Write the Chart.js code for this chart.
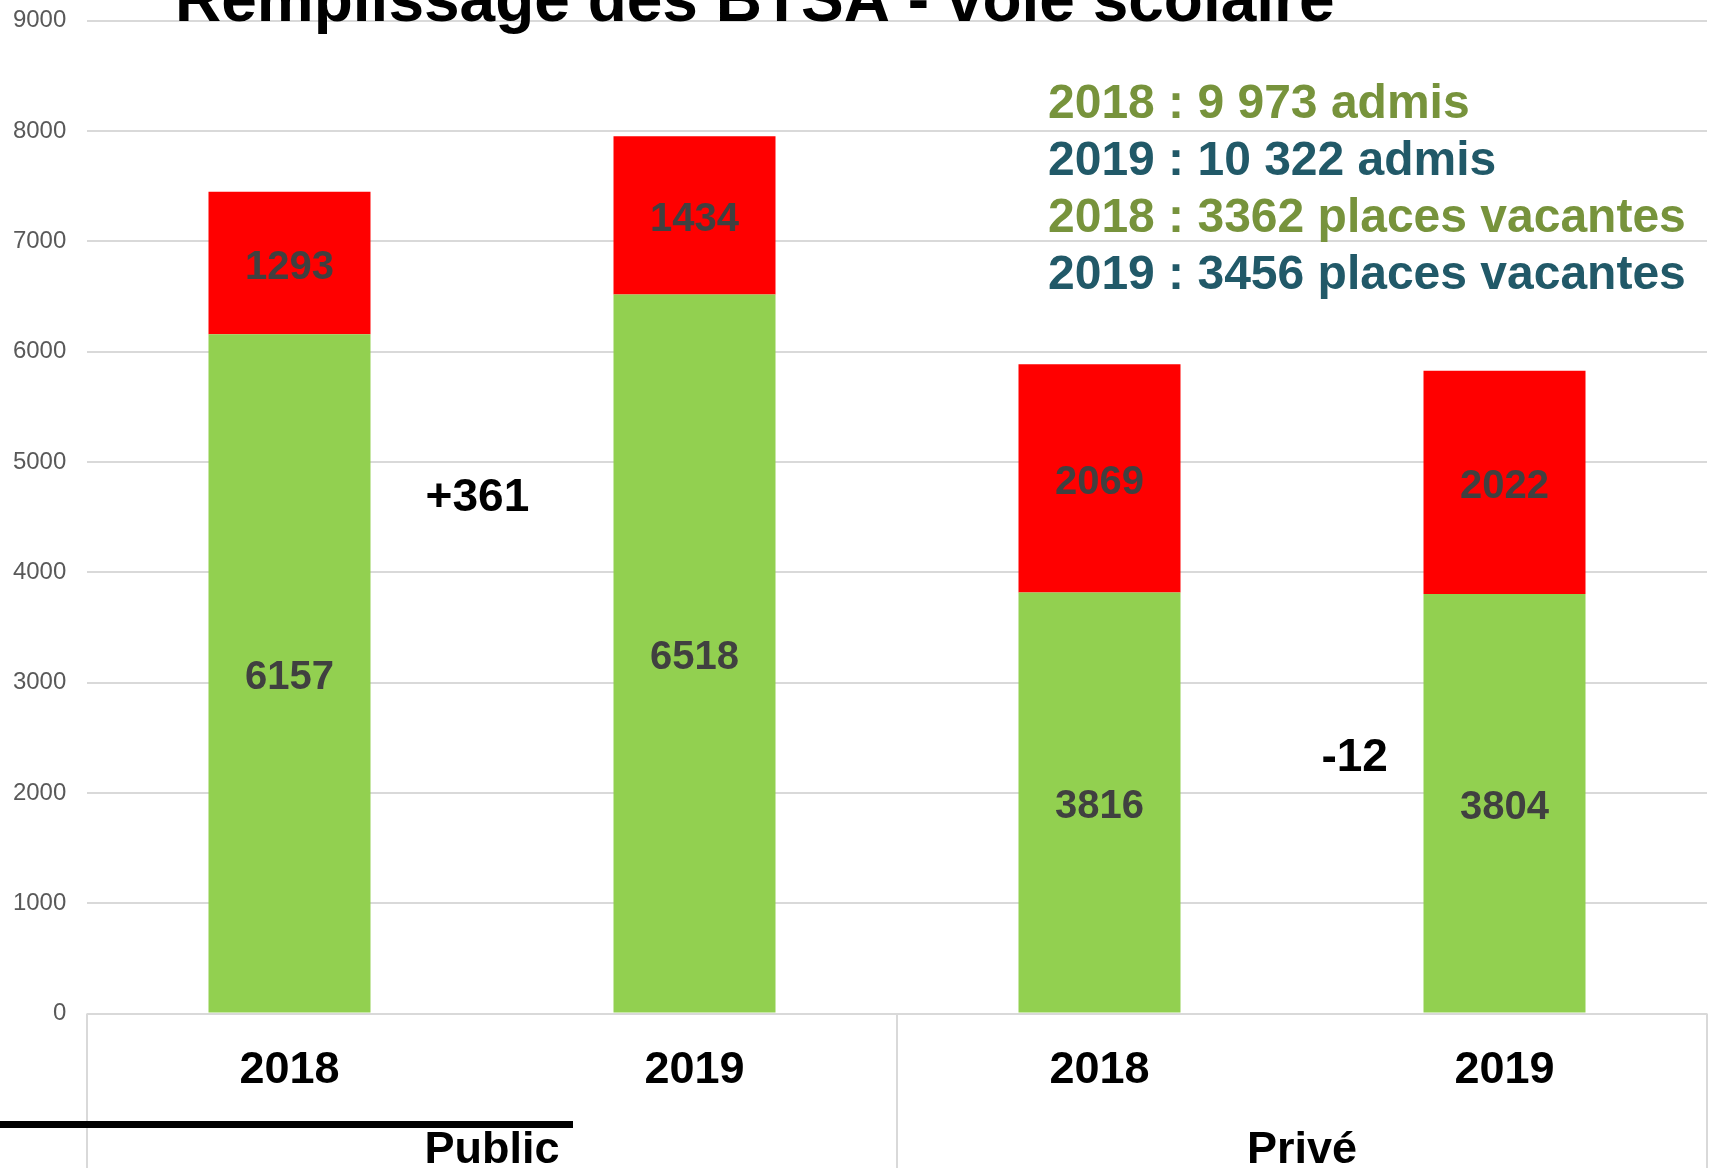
<!DOCTYPE html>
<html>
<head>
<meta charset="utf-8">
<title>Remplissage des BTSA - voie scolaire</title>
<script src="https://cdn.jsdelivr.net/npm/chart.js@4"></script>
<style>
  html, body { margin: 0; padding: 0; background: #fff; }
  canvas { display: block; }
</style>
</head>
<body>
<canvas id="btsaChart" width="1716" height="1168"></canvas>
<script>
// Data
const years = ['2018', '2019', '2018', '2019'];
const groups = ['Public', 'Privé'];
const admis = [6157, 6518, 3816, 3804];       // green part
const vacantes = [1293, 1434, 2069, 2022];    // red part
const yMax = 9000;
const yStep = 1000;

const FONT = '"Liberation Sans", Arial, sans-serif';

// french style number, e.g. 9 973
function frNumber(n) {
    return String(n).replace(/\B(?=(\d{3})+(?!\d))/g, ' ');
}

// totals for the text boxes in the top right corner
const admis2018 = admis[0] + admis[2];
const admis2019 = admis[1] + admis[3];
const vac2018 = vacantes[0] + vacantes[2];
const vac2019 = vacantes[1] + vacantes[3];

const overlay = {
    id: 'overlay',
    afterDatasetsDraw(chart) {
        const ctx = chart.ctx;
        ctx.save();
        // values inside the bars
        ctx.font = 'bold 40px ' + FONT;
        ctx.fillStyle = '#404040';
        ctx.textAlign = 'center';
        ctx.textBaseline = 'middle';
        chart.data.datasets.forEach((ds, i) => {
            chart.getDatasetMeta(i).data.forEach((bar, j) => {
                ctx.fillText(ds.data[j], bar.x, (bar.y + bar.base) / 2 + 4.5);
            });
        });

        // year to year differences
        const xs = chart.scales.x;
        const ys = chart.scales.y;
        ctx.font = 'bold 46px ' + FONT;
        ctx.fillStyle = '#000';
        chart.options.plugins.overlay.diffs.forEach(d => {
            const diff = admis[d.to] - admis[d.from];
            const txt = (diff > 0 ? '+' : '') + diff;
            const x0 = xs.getPixelForValue(d.from);
            const x1 = xs.getPixelForValue(d.to);
            ctx.fillText(txt, x0 + d.t * (x1 - x0), ys.getPixelForValue(d.y) + 3.5);
        });
        ctx.restore();
    },
    afterDraw(chart) {
        const ctx = chart.ctx;
        const area = chart.chartArea;
        const xs = chart.scales.x;
        ctx.save();

        // group borders under the axis
        ctx.strokeStyle = '#d9d9d9';
        ctx.lineWidth = 2;
        const mid = (xs.getPixelForValue(1) + xs.getPixelForValue(2)) / 2;
        [area.left, mid, area.right].forEach(x => {
            ctx.beginPath();
            ctx.moveTo(x, area.bottom);
            ctx.lineTo(x, chart.height);
            ctx.stroke();
        });

        // group labels
        ctx.font = 'bold 45px ' + FONT;
        ctx.fillStyle = '#000';
        ctx.textAlign = 'center';
        ctx.textBaseline = 'alphabetic';
        groups.forEach((g, i) => {
            const cx = (xs.getPixelForValue(i * 2) + xs.getPixelForValue(i * 2 + 1)) / 2;
            ctx.fillText(g, cx, 1163);
        });

        // black rule left over from the slide
        ctx.strokeStyle = '#000';
        ctx.lineWidth = 7;
        ctx.beginPath();
        ctx.moveTo(0, 1124.5);
        ctx.lineTo(573, 1124.5);
        ctx.stroke();

        // title, cut at the top
        ctx.textAlign = 'left';
        ctx.font = 'bold 64px ' + FONT;
        ctx.fillText('Remplissage des BTSA - voie scolaire', 175, 21);

        // text boxes
        const lines = [
            ['2018 : ' + frNumber(admis2018) + ' admis', '#77933c'],
            ['2019 : ' + frNumber(admis2019) + ' admis', '#215968'],
            ['2018 : ' + vac2018 + ' places vacantes', '#77933c'],
            ['2019 : ' + vac2019 + ' places vacantes', '#215968']
        ];
        ctx.font = 'bold 48px ' + FONT;
        lines.forEach((l, i) => {
            ctx.fillStyle = l[1];
            ctx.fillText(l[0], 1048, 118 + i * 57);
        });
        ctx.restore();
    }
};

const ctx = document.getElementById('btsaChart').getContext('2d');
const btsaChart = new Chart(ctx, {
    type: 'bar',
    data: {
        labels: years,
        datasets: [
            {
                label: 'Admis',
                data: admis,
                backgroundColor: '#92d050',
                barPercentage: 0.4,
                categoryPercentage: 1
            },
            {
                label: 'Places vacantes',
                data: vacantes,
                backgroundColor: '#ff0000',
                barPercentage: 0.4,
                categoryPercentage: 1
            }
        ]
    },
    options: {
        responsive: false,
        animation: false,
        layout: {
            padding: { top: 0, right: 9, bottom: 0, left: 0 }
        },
        scales: {
            x: {
                stacked: true,
                grid: { display: false, drawTicks: false },
                border: { display: false },
                ticks: {
                    color: '#000',
                    font: { family: FONT, size: 45, weight: 'bold' },
                    padding: 30
                },
                afterFit(scale) { scale.height = 154.5; }
            },
            y: {
                stacked: true,
                min: 0,
                max: yMax,
                grid: { color: '#d9d9d9', lineWidth: 2, drawTicks: false },
                border: { display: false },
                ticks: {
                    stepSize: yStep,
                    color: '#595959',
                    // lineHeight 0 so the top label adds no extra room above the plot
                    font: { family: FONT, size: 24, lineHeight: 0 },
                    padding: 20.7,
                    callback: v => String(v)
                },
                afterFit(scale) { scale.width = 87; }
            }
        },
        plugins: {
            legend: { display: false },
            tooltip: { enabled: false },
            overlay: {
                diffs: [
                    { from: 0, to: 1, t: 0.464, y: 4700 },
                    { from: 2, to: 3, t: 0.63, y: 2345 }
                ]
            }
        }
    },
    plugins: [overlay]
});
</script>
</body>
</html>
